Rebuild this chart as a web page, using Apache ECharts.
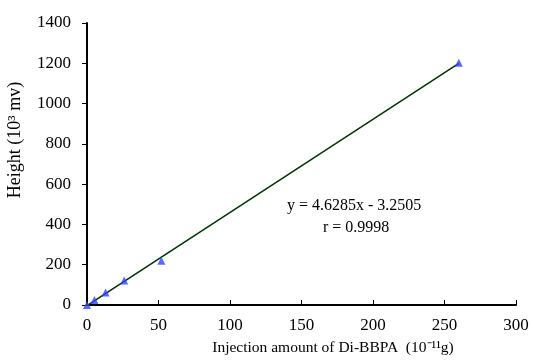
<!DOCTYPE html>
<html>
<head>
<meta charset="utf-8">
<script src="https://cdn.jsdelivr.net/npm/echarts@6/dist/echarts.min.js"></script>
<style>html,body{margin:0;padding:0;background:#fff}#c{width:533px;height:360px}</style>
</head>
<body>
<div id="c"></div>
<script>
const injection = [0, 5.2, 13, 26, 52, 260];
const height = [0, 25, 62, 122, 220, 1203];
const slope = 4.6285;
const intercept = -3.2505;
const fitRange = [0, 260];
const xTicks = [0, 300, 50];
const yTicks = [0, 1400, 200];

const font = 'Liberation Serif, Times New Roman, serif';
const chart = echarts.init(document.getElementById('c'));
chart.setOption({
  animation: false,
  grid: {left: 87, right: 17, top: 23, bottom: 55, containLabel: false, outerBoundsMode: 'none'},
  xAxis: {
    type: 'value', min: xTicks[0], max: xTicks[1], interval: xTicks[2],
    name: 'Injection amount of Di-BBPA  (10⁻¹¹g)',
    nameLocation: 'middle', nameGap: 35,
    nameTextStyle: {fontFamily: font, fontSize: 15.5, color: '#000', padding: [0, 0, 0, 63]},
    axisLine: {lineStyle: {color: '#000', width: 2}},
    axisTick: {inside: true, length: 5, lineStyle: {color: '#000', width: 1}},
    axisLabel: {fontFamily: font, fontSize: 17, color: '#000', margin: 12, formatter: v => String(v)},
    splitLine: {show: false}
  },
  yAxis: {
    type: 'value', min: yTicks[0], max: yTicks[1], interval: yTicks[2],
    name: 'Height (10³ mv)',
    nameLocation: 'middle', nameGap: 63, nameRotate: 90,
    nameTextStyle: {fontFamily: font, fontSize: 18, color: '#000', padding: [0, 0, 0, 48]},
    axisLine: {lineStyle: {color: '#000', width: 2}},
    axisTick: {inside: false, length: 5, lineStyle: {color: '#000', width: 1}},
    axisLabel: {fontFamily: font, fontSize: 17, color: '#000', margin: 16, formatter: v => String(v)},
    splitLine: {show: false}
  },
  graphic: [{
    type: 'text', left: 287, top: 195,
    style: {text: 'y = 4.6285x - 3.2505\n         r = 0.9998', font: '16px ' + font, fill: '#000', lineHeight: 22}
  }],
  series: [{
    type: 'line',
    data: fitRange.map(x => [x, slope * x + intercept]),
    symbol: 'none', lineStyle: {color: '#003300', width: 1.5}, z: 2
  }, {
    type: 'scatter',
    data: injection.map((x, i) => [x, height[i]]),
    symbol: 'triangle', symbolSize: 8,
    itemStyle: {color: '#3344ff'}, z: 3
  }]
});
</script>
</body>
</html>
